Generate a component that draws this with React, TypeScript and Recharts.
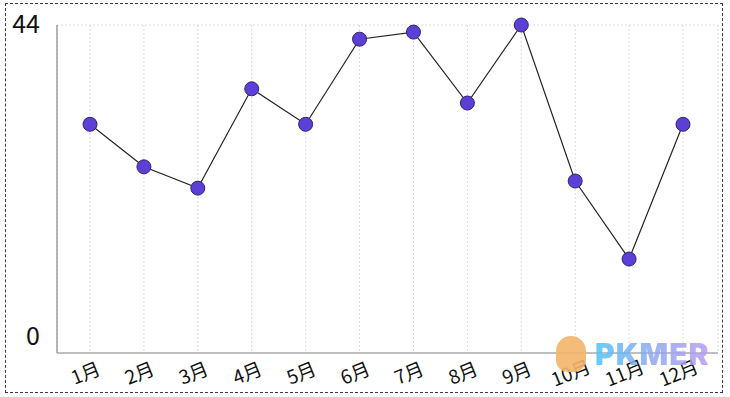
import { LineChart, Line, XAxis, YAxis, CartesianGrid } from "recharts"

const months = ["1月", "2月", "3月", "4月", "5月", "6月", "7月", "8月", "9月", "10月", "11月", "12月"]
const values = [30, 24, 21, 35, 30, 42, 43, 33, 44, 22, 11, 30]
const yTicks = [0, 44]

const data = months.map((m, i) => ({ month: m, value: values[i] }))

const FONT = "'Noto Sans CJK SC', 'Noto Sans', sans-serif"

function MonthTick(props: any) {
  const { x, y, payload } = props
  return (
    <g transform={`translate(${x - 4},${y + 13}) rotate(-22)`}>
      <text textAnchor="middle" dy={6} fontSize={19} fill="#111" fontFamily={FONT}>
        {payload.value}
      </text>
    </g>
  )
}

function ValueTick(props: any) {
  const { y, payload } = props
  return (
    <text x={40} y={y} dy={8} textAnchor="end" fontSize={25} fill="#111" fontFamily={FONT}>
      {payload.value}
    </text>
  )
}

function Dot(props: any) {
  const { cx, cy } = props
  return <circle cx={cx} cy={cy} r={7} fill="#5b3fd6" stroke="#33246e" strokeWidth={1} />
}

export default function App() {
  return (
    <div style={{ position: "relative", width: 730, height: 397, background: "#fff" }}>
      <style>{`body{margin:0}`}</style>
      <div
        style={{
          position: "absolute",
          left: 5,
          top: 3,
          width: 716,
          height: 388,
          border: "1px dashed #3a3a6a",
          pointerEvents: "none",
        }}
      />
      <LineChart width={730} height={397} data={data} margin={{ top: 25, right: 12, bottom: 14, left: 0 }}>
        <CartesianGrid stroke="#dcdcdc" strokeDasharray="2 2" horizontalValues={[44]} />
        <XAxis
          dataKey="month"
          height={30}
          padding={{ left: 33, right: 35 }}
          tickLine={false}
          axisLine={{ stroke: "#aaa", strokeWidth: 1.5 }}
          tick={<MonthTick />}
          interval={0}
        />
        <YAxis
          width={57}
          domain={[-2.25, 44]}
          ticks={yTicks}
          tickLine={false}
          axisLine={{ stroke: "#888", strokeWidth: 1.2 }}
          tick={<ValueTick />}
        />
        <Line
          type="linear"
          dataKey="value"
          stroke="#222"
          strokeWidth={1.2}
          dot={<Dot />}
          isAnimationActive={false}
        />
      </LineChart>
      <div style={{ position: "absolute", left: 556, top: 336, display: "flex", alignItems: "center" }}>
        <div style={{ width: 30, height: 36, borderRadius: "15px 15px 12px 12px", background: "#f4b46a", opacity: 0.9 }} />
        <span
          style={{
            marginLeft: 9,
            fontFamily: "Inter, sans-serif",
            fontWeight: 900,
            fontSize: 30,
            letterSpacing: 1,
            background: "linear-gradient(90deg, #4fc3f7, #8fa8f0, #b79cf0)",
            WebkitBackgroundClip: "text",
            color: "transparent",
            opacity: 0.85,
          }}
        >
          PKMER
        </span>
      </div>
    </div>
  )
}
